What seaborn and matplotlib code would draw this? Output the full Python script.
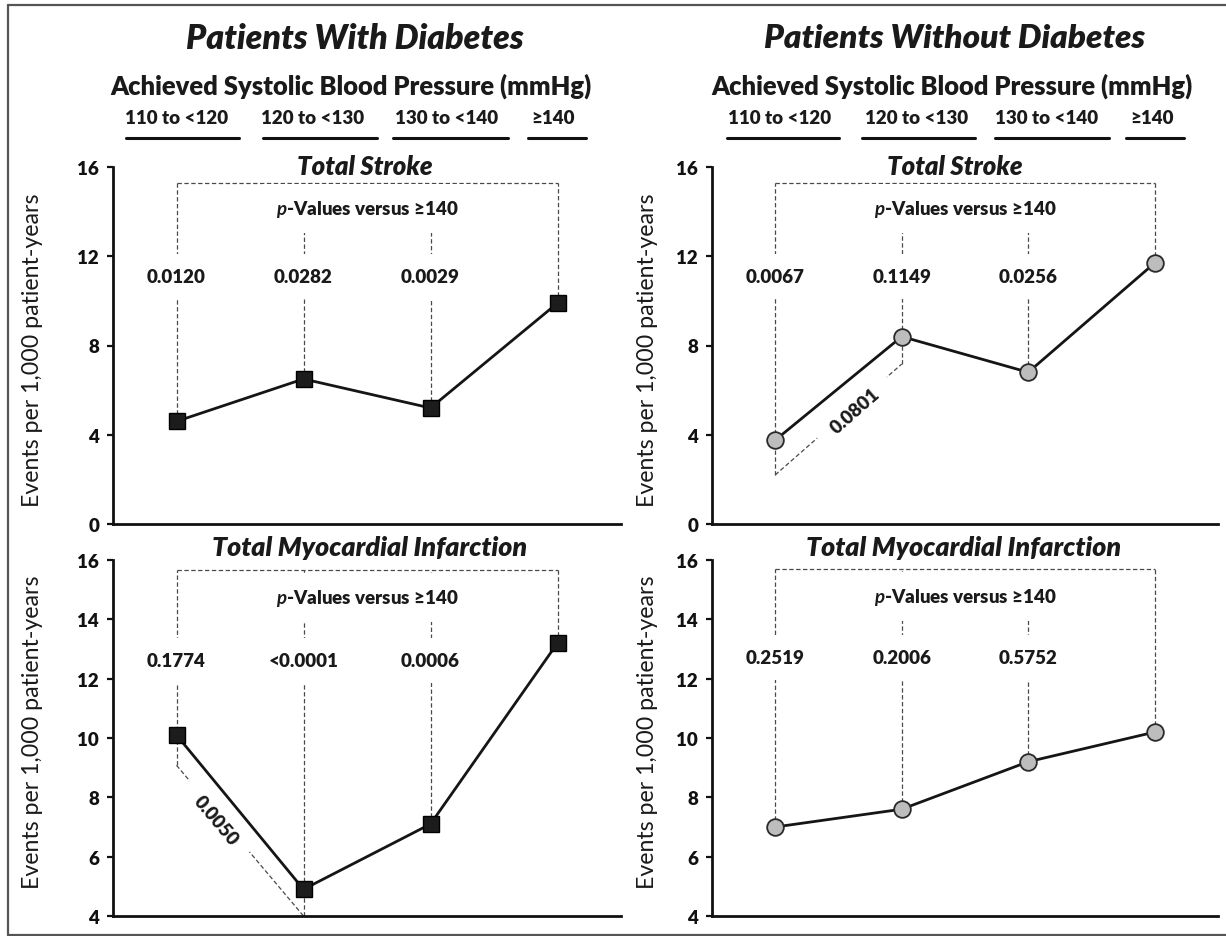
import numpy as np
import pandas as pd
import matplotlib
matplotlib.use("Agg")
import matplotlib.pyplot as plt
import seaborn as sns
from matplotlib.lines import Line2D

# ---------------- data ----------------
categories = ["110 to <120", "120 to <130", "130 to <140", "≥140"]
stroke_diab = [4.6, 6.5, 5.2, 9.9]
stroke_nodiab = [3.76, 8.4, 6.8, 11.7]
mi_diab = [10.1, 4.9, 7.1, 13.2]
mi_nodiab = [7.0, 7.6, 9.2, 10.2]

p_stroke_diab = ["0.0120", "0.0282", "0.0029"]
p_stroke_nodiab = ["0.0067", "0.1149", "0.0256"]
p_mi_diab = ["0.1774", "<0.0001", "0.0006"]
p_mi_nodiab = ["0.2519", "0.2006", "0.5752"]

pair_p_stroke_nodiab = "0.0801"   # 110 to <120 vs 120 to <130
pair_p_mi_diab = "0.0050"         # 110 to <120 vs 120 to <130

group_titles = ["Patients With Diabetes", "Patients Without Diabetes"]
sbp_title = "Achieved Systolic Blood Pressure (mmHg)"
outcome_titles = ["Total Stroke", "Total Myocardial Infarction"]
ylabel = "Events per 1,000 patient-years"

# ---------------- layout ----------------
W, H = 1226, 937
sns.set_theme(style="white")
plt.rcParams["font.family"] = ["Lato", "DejaVu Sans"]
plt.rcParams["text.color"] = "#1a1a1a"
plt.rcParams["mathtext.fontset"] = "custom"
plt.rcParams["mathtext.bfit"] = "Lato:bold:italic"
plt.rcParams["mathtext.it"] = "Lato:bold:italic"

fig = plt.figure(figsize=(W / 100, H / 100), dpi=100)
fig.patch.set_facecolor("white")

SMALL = 13.5
WEIGHT = "heavy"


def fx(px):
    return px / W


def fy(py):
    return 1 - py / H


renderer = fig.canvas.get_renderer()


def fit_width(t, target_px):
    bb = t.get_window_extent(renderer)
    t.set_fontsize(t.get_fontsize() * target_px / bb.width)


pos = np.arange(len(categories))

panels = [
    dict(vals=stroke_diab, pv=p_stroke_diab, rect=(113, 168, 621, 525), ylim=(0, 16),
         yticks=[0, 4, 8, 12, 16], marker="s", title=outcome_titles[0], tx=365, ty=167, tw=136,
         bracket=15.3, pt_y=14.15, pl_y=11.1, ext={}, diag=None, ylab=(33, 350)),
    dict(vals=stroke_nodiab, pv=p_stroke_nodiab, rect=(712, 168, 1218, 525), ylim=(0, 16),
         yticks=[0, 4, 8, 12, 16], marker="o", title=outcome_titles[0], tx=955, ty=167, tw=136,
         bracket=15.3, pt_y=14.15, pl_y=11.1, ext={0: 2.2, 1: 7.17},
         diag=((0, 2.2), (1, 7.17), pair_p_stroke_nodiab, (0.63, 5.07)), ylab=(647, 350)),
    dict(vals=mi_diab, pv=p_mi_diab, rect=(113, 561, 621, 917), ylim=(4, 16),
         yticks=[4, 6, 8, 10, 12, 14, 16], marker="s", title=outcome_titles[1], tx=370, ty=548, tw=316,
         bracket=15.65, pt_y=14.75, pl_y=12.6, ext={0: 9.08, 1: 4.0},
         diag=((0, 9.08), (1, 4.0), pair_p_mi_diab, (0.31, 7.25)), ylab=(33, 732)),
    dict(vals=mi_nodiab, pv=p_mi_nodiab, rect=(712, 561, 1218, 917), ylim=(4, 16),
         yticks=[4, 6, 8, 10, 12, 14, 16], marker="o", title=outcome_titles[1], tx=964, ty=548, tw=316,
         bracket=15.7, pt_y=14.76, pl_y=12.7, ext={}, diag=None, ylab=(647, 732)),
]

dash = dict(color="#4a4a4a", lw=0.9, ls=(0, (3.5, 2)), zorder=1)
label_box = dict(boxstyle="square,pad=0.75", fc="white", ec="none")

for p in panels:
    x0, y0, x1, y1 = p["rect"]
    ax = fig.add_axes([fx(x0), fy(y1), fx(x1) - fx(x0), fy(y0) - fy(y1)])
    ax.set_xlim(-0.5, 3.5)
    ax.set_ylim(*p["ylim"])
    ax.set_facecolor("white")
    for s in ["top", "right"]:
        ax.spines[s].set_visible(False)
    for s in ["left", "bottom"]:
        ax.spines[s].set_color("#111111")
        ax.spines[s].set_linewidth(2.0)
    ax.set_xticks([])
    ax.set_yticks(p["yticks"])
    ax.set_yticklabels([str(v) for v in p["yticks"]], fontweight=WEIGHT, fontsize=SMALL)
    ax.tick_params(axis="y", direction="out", length=4, width=1.6, pad=6, colors="#111111",
                   left=True)

    vals = p["vals"]
    # bracket + vertical guides
    ax.plot([pos[0], pos[-1]], [p["bracket"], p["bracket"]], **dash)
    for i, v in enumerate(vals):
        bottom = p["ext"].get(i, v)
        ax.plot([pos[i], pos[i]], [bottom, p["bracket"]], **dash)
    if p["diag"] is not None:
        (a, b, c, d) = p["diag"]
        ax.plot([a[0], b[0]], [a[1], b[1]], **dash)
        p0 = ax.transData.transform(a)
        p1 = ax.transData.transform(b)
        ang = np.degrees(np.arctan2(p1[1] - p0[1], p1[0] - p0[0]))
        ax.text(d[0], d[1], c, rotation=ang, rotation_mode="anchor", ha="center", va="center",
                fontsize=SMALL, fontweight=WEIGHT, zorder=3,
                bbox=dict(boxstyle="square,pad=0.9", fc="white", ec="none"))

    # p-values header and labels
    ax.text(np.mean([pos[0], pos[-1]]), p["pt_y"], "$\\mathit{p}$-Values versus ≥140",
            ha="center", va="center", fontsize=SMALL, fontweight=WEIGHT, zorder=3, bbox=label_box)
    for i, lab in enumerate(p["pv"]):
        ax.text(pos[i], p["pl_y"], lab, ha="center", va="center", fontsize=SMALL,
                fontweight=WEIGHT, zorder=3, bbox=label_box)

    df = pd.DataFrame({"pos": pos, "rate": vals})
    if p["marker"] == "s":
        mk = dict(marker="s", markersize=11.5, markerfacecolor="#1c1c1c",
                  markeredgecolor="#000000", markeredgewidth=1.0)
    else:
        mk = dict(marker="o", markersize=12, markerfacecolor="#bdbdbd",
                  markeredgecolor="#2a2a2a", markeredgewidth=1.3)
    sns.lineplot(data=df, x="pos", y="rate", ax=ax, color="#151515", linewidth=2.0,
                 errorbar=None, zorder=5, clip_on=False, **mk)
    ax.set_xlabel("")
    ax.set_ylabel("")

    t = fig.text(fx(p["tx"]), fy(p["ty"]), p["title"], ha="center", va="center",
                 fontsize=16, fontweight=WEIGHT, fontstyle="italic")
    fit_width(t, p["tw"])
    yl = fig.text(fx(p["ylab"][0]), fy(p["ylab"][1]), ylabel, rotation=90, ha="center",
                  va="center", fontsize=14)
    hv = yl.get_window_extent(renderer).height
    yl.set_fontsize(yl.get_fontsize() * 315 / hv)

# ---------------- header ----------------
title_cx = [355, 955]
title_w = [337, 381]
sbp_cx = [351, 952]
cat_cx = [[177, 313, 447, 553], [780, 917, 1047, 1152]]
underlines = [[(126, 239), (263, 377), (393, 508), (528, 586)],
              [(727, 839), (862, 975), (995, 1109), (1126, 1184)]]

for g in range(2):
    t = fig.text(fx(title_cx[g]), fy(39), group_titles[g], ha="center", va="center",
                 fontsize=20, fontweight=WEIGHT, fontstyle="italic")
    fit_width(t, title_w[g])
    t = fig.text(fx(sbp_cx[g]), fy(86), sbp_title, ha="center", va="center",
                 fontsize=16, fontweight=WEIGHT)
    fit_width(t, 482)
    for j, c in enumerate(categories):
        fig.text(fx(cat_cx[g][j]), fy(119), c, ha="center", va="center", fontsize=SMALL,
                 fontweight=WEIGHT)
        a, b = underlines[g][j]
        fig.add_artist(Line2D([fx(a), fx(b)], [fy(139), fy(139)], color="#111111", lw=2.2))

# outer frame
frame = dict(color="#555555", lw=1.6)
fig.add_artist(Line2D([fx(8), fx(8)], [fy(6), fy(936)], **frame))
fig.add_artist(Line2D([fx(8), 1.0], [fy(6), fy(6)], **frame))
fig.add_artist(Line2D([fx(8), 1.0], [fy(936), fy(936)], **frame))

fig.savefig("out.png", dpi=100, facecolor="white")
